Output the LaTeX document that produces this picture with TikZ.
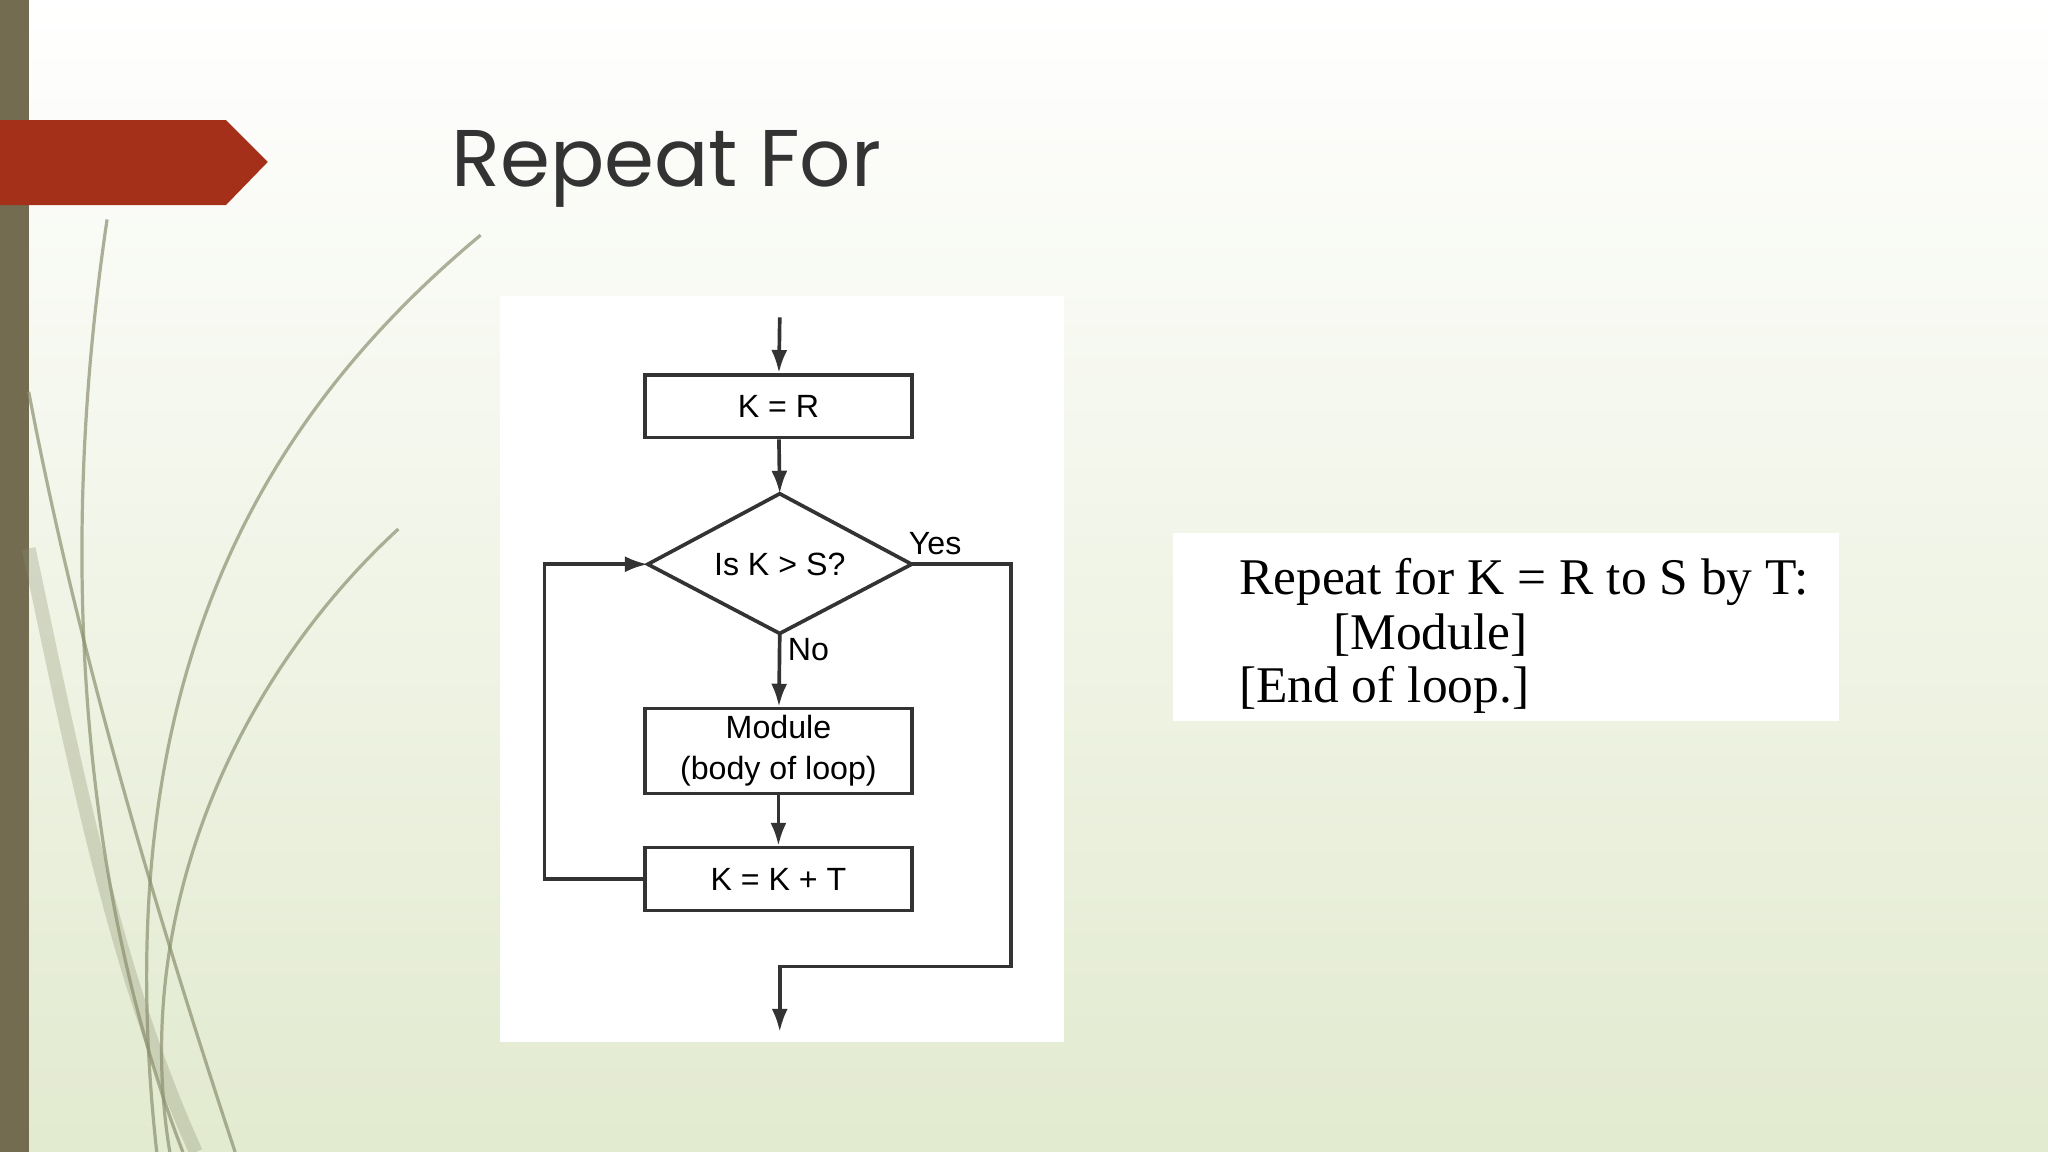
\documentclass[tikz,border=0pt]{standalone}
\usepackage{fontspec}
\setmainfont{Liberation Serif}
\newfontfamily\titlefont{Poppins}
\newfontfamily\flowfont{Liberation Sans}
\usetikzlibrary{arrows.meta}
\definecolor{bgg}{HTML}{E2EACF}
\definecolor{bar}{HTML}{736C50}
\definecolor{banner}{HTML}{A5301A}
\definecolor{curve}{HTML}{8C9070}
\tikzset{x=0.01cm,y=-0.01cm,
  fbox/.style={draw=black!80,line width=0.8pt,minimum width=2.04cm,inner sep=0pt,font=\flowfont\fontsize{7}{9}\selectfont,align=center},
  arr/.style={draw=black!80,line width=0.8pt,-{Latex[length=5pt,width=3.5pt]}},
  ln/.style={draw=black!80,line width=0.8pt}}
\begin{document}
\begin{tikzpicture}
\useasboundingbox (0,0) rectangle (1568,882);
\shade[left color=white,right color=bgg,shading angle=0] (0,0) rectangle (1568,882);
\shade[top color=white,bottom color=bgg,opacity=0.5] (0,0) rectangle (1568,882);
\fill[bar] (0,0) rectangle (22,882);
% decorative curves
\begin{scope}[curve,line width=0.7pt,opacity=0.7]
\draw (82,168) .. controls (40,450) and (70,700) .. (140,882);
\draw (22,300) .. controls (60,500) and (120,700) .. (180,882);
\draw (368,180) .. controls (200,320) and (80,520) .. (120,882);
\draw (305,405) .. controls (180,520) and (100,700) .. (130,882);
\draw[opacity=0.3,line width=3pt] (22,420) .. controls (60,600) and (90,750) .. (150,882);
\end{scope}
\fill[banner] (0,92) -- (173,92) -- (205,124) -- (173,157) -- (0,157) -- cycle;
\node[anchor=base west,inner sep=0pt,text=black!80,font=\titlefont\fontsize{17.5}{21}\selectfont] (title) at (345,143) {Repeat For};
% flowchart panel
\fill[white] (383,227) rectangle (815,798);
\coordinate (start) at (597,243);
\node[fbox,minimum height=0.48cm] (kr) at (596,311) {K = R};
\coordinate (dt) at (597,378); \coordinate (db) at (597,485);
\coordinate (dl) at (496,432); \coordinate (dr) at (698,432);
\draw[ln] (dt) -- (dr) -- (db) -- (dl) -- cycle;
\node[font=\flowfont\fontsize{7}{9}\selectfont] (q) at (597,432) {Is K > S?};
\node[fbox,minimum height=0.65cm] (mod) at (596,575) {Module\\(body of loop)};
\node[fbox,minimum height=0.48cm] (kk) at (596,673) {K = K + T};
\draw[arr] (start) -- (kr);
\draw[arr] (kr) -- (dt);
\draw[arr] (db) -- (mod);
\draw[arr] (mod) -- (kk);
\draw[arr] (kk.west) -| (417,432) -- (dl);
\coordinate (ex) at (597,790);
\draw[arr] (dr) -- (774,432) -- (774,740) -- (597,740) -- (ex);
\node[font=\flowfont\fontsize{7}{9}\selectfont] (yes) at (716,416) {Yes};
\node[font=\flowfont\fontsize{7}{9}\selectfont] (no) at (619,497) {No};
% text panel
\fill[white] (898,408) rectangle (1408,552);
\node[anchor=base west,inner sep=0pt,font=\fontsize{11.2}{13}\selectfont] (l1) at (948,455) {Repeat for K = R to S by T:};
\node[anchor=base west,inner sep=0pt,font=\fontsize{11.2}{13}\selectfont] (l2) at (1020,497) {[Module]};
\node[anchor=base west,inner sep=0pt,font=\fontsize{11.2}{13}\selectfont] (l3) at (948,538) {[End of loop.]};
\end{tikzpicture}
\end{document}
